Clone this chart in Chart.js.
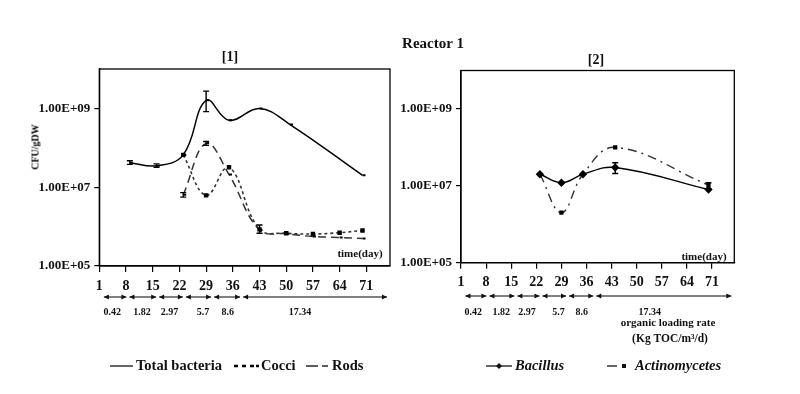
<!DOCTYPE html>
<html lang="en">
<head>
    <meta charset="UTF-8">
    <title>Reactor 1</title>
    <script src="https://cdn.jsdelivr.net/npm/chart.js"></script>
    <style>
        body {
            margin: 0;
            padding: 0;
            background-color: #fff;
            width: 800px;
            height: 394px;
            position: relative;
            overflow: hidden;
            font-family: "Liberation Serif", "DejaVu Serif", serif;
            color: #111;
        }
        canvas { position: absolute; top: 0; }
        #chart1 { left: 0; }
        #chart2 { left: 398px; }
        .lbl {
            position: absolute;
            font-weight: bold;
            transform: translate(-50%, -50%);
            white-space: nowrap;
        }
    </style>
</head>
<body>

    <canvas id="chart1" width="400" height="394"></canvas>
    <canvas id="chart2" width="402" height="394"></canvas>

    <div class="lbl" style="left:433px; top:43px; font-size:15px;">Reactor 1</div>
    <div class="lbl" style="left:230px; top:57px; font-size:14px;">[1]</div>
    <div class="lbl" style="left:596px; top:60px; font-size:14px;">[2]</div>
    <div class="lbl" style="left:35px; top:147px; font-size:10px; color:#000; transform: translate(-50%, -50%) rotate(-90deg);">CFU/gDW</div>

    <script>
        // axis ticks
        const dayTicks = [1, 8, 15, 22, 29, 36, 43, 50, 57, 64, 71];
        const cfuTicks = [1e5, 1e7, 1e9];

        // organic loading rate periods (Kg TOC/m3/d)
        const olrValues = ['0.42', '1.82', '2.97', '5.7', '8.6', '17.34'];
        const olrBounds = [1.8, 8.5, 16.3, 23.3, 30.7, 38.3, 76.8];
        const olrLabelAt = [4.4, 12.2, 19.4, 28.2, 34.7, 53.6];

        // [1] total bacteria, cocci, rods
        const totalDays = [9, 16, 23, 29, 35, 43, 51, 70];
        const totalCfu = [4.2e7, 3.5e7, 6.6e7, 1.6e9, 5.0e8, 1.0e9, 3.9e8, 2.0e7];
        const totalErrLo = [3.8e7, 3.2e7, null, 8.3e8, null, null, null, null];
        const totalErrHi = [4.7e7, 3.9e7, null, 2.75e9, null, null, null, null];

        const cocciDays = [23, 29, 35, 43, 50, 57, 64, 70];
        const cocciCfu = [6.6e7, 6.2e6, 3.2e7, 8.5e5, 6.8e5, 6.5e5, 7.0e5, 8.0e5];
        const cocciErrLo = [null, null, null, 6.8e5, null, null, null, null];
        const cocciErrHi = [null, null, null, 1.1e6, null, null, null, null];

        const rodsDays = [23, 29, 35, 43, 50, 57, 64, 70];
        const rodsCfu = [6.4e6, 1.3e8, 2.1e7, 8.2e5, 6.6e5, 5.6e5, 5.3e5, 5.0e5];
        const rodsErrLo = [5.6e6, 1.15e8, null, null, null, null, null, null];
        const rodsErrHi = [7.3e6, 1.45e8, null, null, null, null, null, null];

        // [2] bacillus, actinomycetes
        const bacDays = [23, 29, 35, 44, 70];
        const bacCfu = [2.0e7, 1.2e7, 2.0e7, 3.0e7, 8.0e6];
        const bacErrLo = [null, null, null, 2.1e7, null];
        const bacErrHi = [null, null, null, 4.0e7, null];

        const actDays = [23, 29, 35, 44, 70];
        const actCfu = [2.0e7, 2.0e6, 2.0e7, 1.0e8, 1.05e7];
        const actErrLo = [null, null, null, null, 8.1e6];
        const actErrHi = [null, null, null, null, 1.2e7];

        const SERIF = '"Liberation Serif", "DejaVu Serif", serif';
        const INK = '#111';

        function pts(xs, ys) {
            return xs.map((d, i) => ({ x: d, y: ys[i] }));
        }

        function sci(v) {
            const parts = v.toExponential(2).split('e');
            return parts[0] + 'E+' + String(Math.abs(+parts[1])).padStart(2, '0');
        }

        // frame, error bars, OLR arrows, labels and legend
        const decor = {
            id: 'decor',
            afterDatasetsDraw(chart, args, o) {
                const ctx = chart.ctx, xs = chart.scales.x, ys = chart.scales.y, a = chart.chartArea;
                ctx.save();
                ctx.strokeStyle = '#000';
                ctx.fillStyle = INK;
                ctx.lineWidth = 1.3;
                ctx.setLineDash([]);
                ctx.strokeRect(a.left, a.top, a.right - a.left, a.bottom - a.top);

                // error bars
                ctx.lineWidth = 1.4;
                chart.data.datasets.forEach(ds => {
                    if (!ds.errLo) return;
                    ds.data.forEach((p, i) => {
                        if (ds.errLo[i] == null) return;
                        const px = xs.getPixelForValue(p.x);
                        const y1 = ys.getPixelForValue(ds.errLo[i]);
                        const y2 = ys.getPixelForValue(ds.errHi[i]);
                        ctx.beginPath();
                        ctx.moveTo(px, y1); ctx.lineTo(px, y2);
                        ctx.moveTo(px - 3, y1); ctx.lineTo(px + 3, y1);
                        ctx.moveTo(px - 3, y2); ctx.lineTo(px + 3, y2);
                        ctx.stroke();
                    });
                });

                // time label
                ctx.font = 'bold 11px ' + SERIF;
                ctx.textAlign = 'center';
                ctx.textBaseline = 'middle';
                ctx.fillText('time(day)', o.timeX, o.timeY);

                // OLR arrow row
                ctx.lineWidth = 1;
                for (let i = 0; i < olrBounds.length - 1; i++) {
                    const x0 = xs.getPixelForValue(olrBounds[i]) + 1.5;
                    const x1 = xs.getPixelForValue(olrBounds[i + 1]) - 1.5;
                    const yr = o.arrowY;
                    ctx.beginPath();
                    ctx.moveTo(x0, yr); ctx.lineTo(x1, yr);
                    ctx.stroke();
                    ctx.beginPath();
                    ctx.moveTo(x0, yr); ctx.lineTo(x0 + 5, yr - 2.5); ctx.lineTo(x0 + 5, yr + 2.5); ctx.closePath();
                    ctx.moveTo(x1, yr); ctx.lineTo(x1 - 5, yr - 2.5); ctx.lineTo(x1 - 5, yr + 2.5); ctx.closePath();
                    ctx.fill();
                }
                ctx.font = 'bold 10px ' + SERIF;
                olrValues.forEach((t, i) => {
                    ctx.fillText(t, xs.getPixelForValue(olrLabelAt[i]), o.olrY);
                });
                if (o.olrTitle) {
                    ctx.font = 'bold 11px ' + SERIF;
                    ctx.fillText('organic loading rate', o.olrTitle.x, o.olrTitle.y1);
                    ctx.font = 'bold 11.5px ' + SERIF;
                    ctx.fillText('(Kg TOC/m\u00B3/d)', o.olrTitle.x + 2, o.olrTitle.y2);
                }

                // legend
                o.legend.forEach(item => {
                    const ly = o.legendY;
                    ctx.strokeStyle = '#000';
                    ctx.lineWidth = item.width;
                    item.segs.forEach(s => {
                        ctx.beginPath();
                        ctx.moveTo(s[0], ly); ctx.lineTo(s[1], ly);
                        ctx.stroke();
                    });
                    if (item.marker === 'diamond') {
                        ctx.beginPath();
                        ctx.moveTo(item.mx, ly - 3); ctx.lineTo(item.mx + 3, ly);
                        ctx.lineTo(item.mx, ly + 3); ctx.lineTo(item.mx - 3, ly);
                        ctx.closePath(); ctx.fill();
                    } else if (item.marker === 'square') {
                        ctx.fillRect(item.mx - 2, ly - 2, 4, 4);
                    }
                    ctx.font = (item.italic ? 'italic ' : '') + 'bold 14.5px ' + SERIF;
                    ctx.textAlign = 'left';
                    ctx.fillText(item.text, item.tx, ly);
                });
                ctx.restore();
            }
        };

        function scalesFor(yWidth, xHeight, tickPad) {
            return {
                x: {
                    type: 'linear',
                    min: 1,
                    max: 77.2,
                    afterBuildTicks: s => { s.ticks = dayTicks.map(v => ({ value: v })); },
                    afterFit: s => { s.height = xHeight; },
                    grid: { display: true, drawOnChartArea: false, drawTicks: true, tickLength: 6, color: '#000', lineWidth: 1.2 },
                    border: { display: true, color: '#000', width: 1.3 },
                    ticks: {
                        autoSkip: false, maxRotation: 0, padding: tickPad,
                        color: INK, font: { family: SERIF, size: 14, weight: 'bold' }
                    }
                },
                y: {
                    type: 'logarithmic',
                    min: 1e5,
                    max: 1e10,
                    afterBuildTicks: s => { s.ticks = cfuTicks.map(v => ({ value: v })); },
                    afterFit: s => { s.width = yWidth; },
                    grid: { display: true, drawOnChartArea: false, drawTicks: true, tickLength: 5, color: '#000', lineWidth: 1.2 },
                    border: { display: true, color: '#000', width: 1.3 },
                    ticks: {
                        autoSkip: false, padding: 4,
                        color: INK, font: { family: SERIF, size: 13, weight: 'bold' },
                        callback: v => sci(v)
                    }
                }
            };
        }

        const chart1 = new Chart(document.getElementById('chart1'), {
            type: 'line',
            data: {
                datasets: [
                    { label: 'Total bacteria', data: pts(totalDays, totalCfu), errLo: totalErrLo, errHi: totalErrHi,
                      borderColor: '#000', borderWidth: 1.5, tension: 0.4, pointStyle: 'dash', pointRadius: 3,
                      pointBorderColor: '#000', pointBorderWidth: 2 },
                    { label: 'Cocci', data: pts(cocciDays, cocciCfu), errLo: cocciErrLo, errHi: cocciErrHi,
                      borderColor: '#333', borderWidth: 1.6, borderDash: [3, 3], tension: 0.4, pointStyle: 'rect', pointRadius: 2,
                      pointBackgroundColor: '#000', pointBorderColor: '#000' },
                    { label: 'Rods', data: pts(rodsDays, rodsCfu), errLo: rodsErrLo, errHi: rodsErrHi,
                      borderColor: '#333', borderWidth: 1.5, borderDash: [8, 5], tension: 0.4, pointStyle: 'dash', pointRadius: 3,
                      pointBorderColor: '#000', pointBorderWidth: 2 }
                ]
            },
            options: {
                responsive: false,
                animation: false,
                layout: { padding: { left: 0, right: 10, top: 69, bottom: 0 } },
                scales: scalesFor(99.3, 128, 6),
                plugins: {
                    legend: { display: false },
                    tooltip: { enabled: false },
                    decor: {
                        timeX: 360, timeY: 254,
                        arrowY: 297, olrY: 312,
                        legendY: 366,
                        legend: [
                            { segs: [[110, 133]], width: 1.2, text: 'Total bacteria', tx: 136 },
                            { segs: [[234, 238], [242, 246], [250, 254], [256, 259]], width: 2.5, text: 'Cocci', tx: 261 },
                            { segs: [[306, 318], [322, 328]], width: 1.3, text: 'Rods', tx: 332 }
                        ]
                    }
                }
            },
            plugins: [decor]
        });

        const chart2 = new Chart(document.getElementById('chart2'), {
            type: 'line',
            data: {
                datasets: [
                    { label: 'Bacillus', data: pts(bacDays, bacCfu), errLo: bacErrLo, errHi: bacErrHi,
                      borderColor: '#000', borderWidth: 1.4, tension: 0.4, pointStyle: 'rectRot', pointRadius: 3.2,
                      pointBackgroundColor: '#000', pointBorderColor: '#000' },
                    { label: 'Actinomycetes', data: pts(actDays, actCfu), errLo: actErrLo, errHi: actErrHi,
                      borderColor: '#333', borderWidth: 1.4, borderDash: [9, 5, 2, 5], tension: 0.4, pointStyle: 'rect', pointRadius: 2,
                      pointBackgroundColor: '#000', pointBorderColor: '#000' }
                ]
            },
            options: {
                responsive: false,
                animation: false,
                layout: { padding: { left: 0, right: 65.7, top: 70.5, bottom: 0 } },
                scales: scalesFor(63, 131.3, 5),
                plugins: {
                    legend: { display: false },
                    tooltip: { enabled: false },
                    decor: {
                        timeX: 306, timeY: 257,
                        arrowY: 296, olrY: 312,
                        olrTitle: { x: 270, y1: 323, y2: 339 },
                        legendY: 366,
                        legend: [
                            { segs: [[88, 114]], width: 1.2, marker: 'diamond', mx: 101, text: 'Bacillus', tx: 117, italic: true },
                            { segs: [[209, 219]], width: 1.2, marker: 'square', mx: 226, text: 'Actinomycetes', tx: 237, italic: true }
                        ]
                    }
                }
            },
            plugins: [decor]
        });
    </script>

</body>
</html>
